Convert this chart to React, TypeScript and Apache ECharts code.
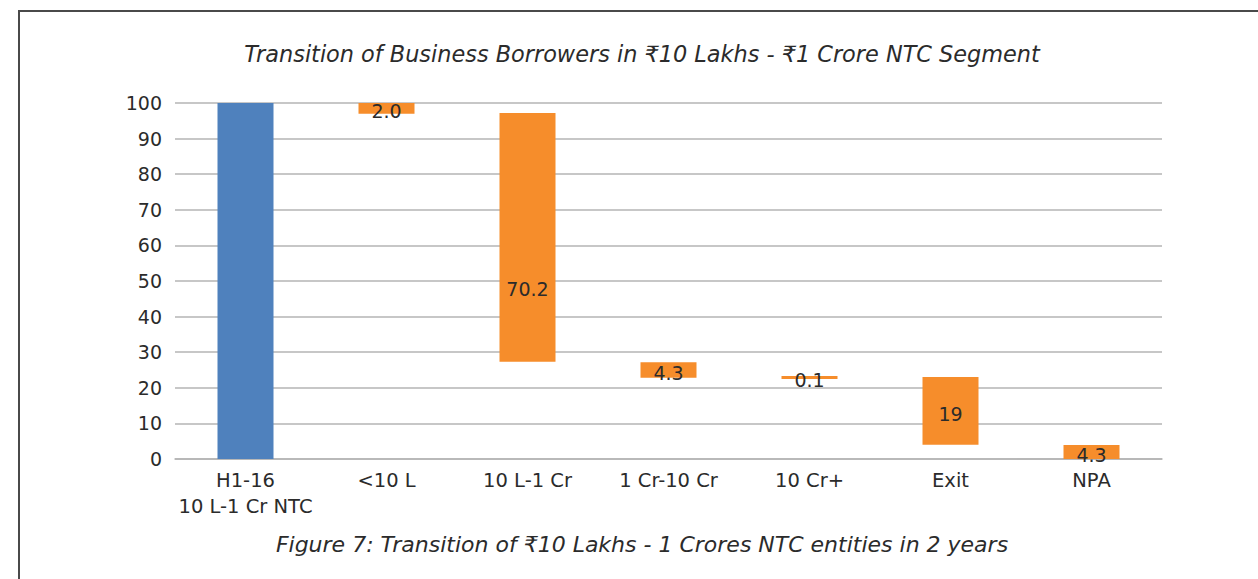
import React, { useEffect, useRef } from "react";
import * as echarts from "echarts";

const categories = ["H1-16\n10 L-1 Cr NTC", "<10 L", "10 L-1 Cr", "1 Cr-10 Cr", "10 Cr+", "Exit", "NPA"];
// floating bar bottoms and tops
const lows = [0, 97.0, 27.3, 22.8, 22.5, 4.0, 0];
const highs = [100, 100, 97.2, 27.2, 23.3, 23.0, 3.9];
// value labels printed on the bars
const valueLabels = ["", "2.0", "70.2", "4.3", "0.1", "19", "4.3"];
const yTicks = { min: 0, max: 100, interval: 10 };

const FONT = "'DejaVu Sans', sans-serif";
const TEXT = "#2b2b2b";
const BLUE = "#4f81bd";
const ORANGE = "#f68d2b";

export default function App() {
  const ref = useRef<HTMLDivElement>(null);
  useEffect(() => {
    if (!ref.current) return;
    const chart = echarts.init(ref.current, undefined, { renderer: "svg" });
    chart.setOption({
      animation: false,
      backgroundColor: "#fff",
      textStyle: { fontFamily: FONT },
      grid: { left: 175, right: 96, top: 103, bottom: 120, containLabel: false },
      xAxis: {
        type: "category",
        data: categories,
        axisLine: { show: true, lineStyle: { color: "#b4b4b4", width: 1.5 } },
        axisTick: { show: false },
        axisLabel: { color: TEXT, fontSize: 19.5, fontFamily: FONT, margin: 8, lineHeight: 26, interval: 0 },
      },
      yAxis: {
        type: "value",
        min: yTicks.min,
        max: yTicks.max,
        interval: yTicks.interval,
        axisLine: { show: false },
        axisTick: { show: false },
        axisLabel: { color: TEXT, fontSize: 19, fontFamily: FONT, margin: 13 },
        splitLine: { lineStyle: { color: "#b4b4b4", width: 1.5 } },
      },
      series: [
        {
          type: "bar",
          stack: "w",
          data: lows,
          barWidth: 56,
          itemStyle: { color: "transparent" },
          silent: true,
        },
        {
          type: "bar",
          stack: "w",
          barWidth: 56,
          data: highs.map((h, i) => ({
            value: +(h - lows[i]).toFixed(2),
            itemStyle: { color: i === 0 ? BLUE : ORANGE },
            label: i === 2 ? { offset: [0, 52] } : undefined,
          })),
          label: {
            show: true,
            position: "inside",
            offset: [0, 3],
            color: TEXT,
            fontSize: 19,
            fontFamily: FONT,
            formatter: (p: any) => valueLabels[p.dataIndex],
          },
        },
      ],
      graphic: [
        {
          type: "rect",
          shape: { x: 19, y: 11, width: 1400, height: 700 },
          style: { fill: "none", stroke: "#4a4a4a", lineWidth: 2 },
          silent: true,
        },
        {
          type: "text",
          x: 642,
          y: 54,
          style: {
            text: "Transition of Business Borrowers in ₹10 Lakhs - ₹1 Crore NTC Segment",
            font: `oblique 22.4px ${FONT}`,
            fill: TEXT,
            textAlign: "center",
            textVerticalAlign: "middle",
          },
        },
        {
          type: "text",
          x: 642,
          y: 544,
          style: {
            text: "Figure 7: Transition of ₹10 Lakhs - 1 Crores NTC entities in 2 years",
            font: `oblique 22px ${FONT}`,
            fill: TEXT,
            textAlign: "center",
            textVerticalAlign: "middle",
          },
        },
      ],
    });
    return () => chart.dispose();
  }, []);
  return <div ref={ref} style={{ position: "fixed", left: 0, top: 0, width: 1258, height: 579 }} />;
}
